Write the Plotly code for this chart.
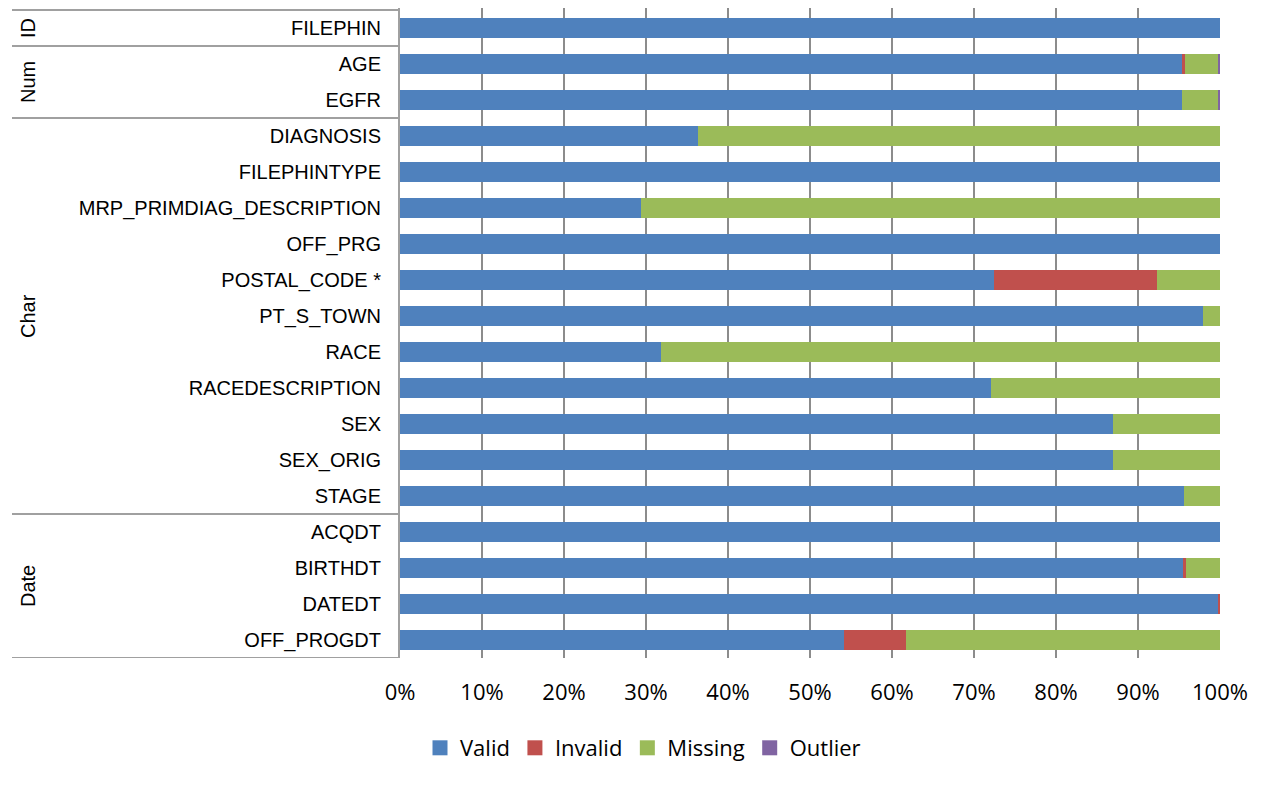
import plotly.graph_objects as go

categories = ["FILEPHIN", "AGE", "EGFR", "DIAGNOSIS", "FILEPHINTYPE",
              "MRP_PRIMDIAG_DESCRIPTION", "OFF_PRG", "POSTAL_CODE *", "PT_S_TOWN",
              "RACE", "RACEDESCRIPTION", "SEX", "SEX_ORIG", "STAGE",
              "ACQDT", "BIRTHDT", "DATEDT", "OFF_PROGDT"]
valid   = [100, 95.4, 95.4, 36.3, 100, 29.4, 100, 72.4, 97.9, 31.8, 72.1, 86.9, 86.9, 95.6, 100, 95.5, 99.8, 54.2]
invalid = [0, 0.3, 0, 0, 0, 0, 0, 19.9, 0, 0, 0, 0, 0, 0, 0, 0.3, 0.2, 7.5]
missing = [0, 4.1, 4.3, 63.7, 0, 70.6, 0, 7.7, 2.1, 68.2, 27.9, 13.1, 13.1, 4.4, 0, 4.2, 0, 38.3]
outlier = [0, 0.2, 0.3, 0, 0, 0, 0, 0, 0, 0, 0, 0, 0, 0, 0, 0, 0, 0]

groups = ["ID", "Num", "Char", "Date"]
group_sizes = [1, 2, 11, 4]

series = [("Valid", valid, "#4F81BD"), ("Invalid", invalid, "#C0504D"),
          ("Missing", missing, "#9BBB59"), ("Outlier", outlier, "#8064A2")]

fig = go.Figure()
for name, vals, col in series:
    fig.add_trace(go.Bar(y=categories, x=vals, name=name, orientation="h",
                         marker=dict(color=col, line=dict(width=0)), showlegend=False))
# legend entries with larger square keys
for name, vals, col in series:
    fig.add_trace(go.Scatter(x=[None], y=[None], mode="markers", name=name,
                             marker=dict(symbol="square", size=15, color=col)))

W, H = 1278, 785
OFF = 8  # page body margin
L, R, T, B = 400 - OFF, 1220 - OFF, 0, 658 - OFF
pw = R - L
ph = B - T

CAT_FONT = "Liberation Sans, Arial"
NUM_FONT = "Open Sans, Lato"

fig.update_layout(
    width=W, height=H, barmode="stack", bargap=0.44,
    margin=dict(l=L, r=W - R, t=T, b=H - B, pad=0),
    plot_bgcolor="white", paper_bgcolor="white",
    font=dict(family=CAT_FONT, size=18, color="#000000"),
    legend=dict(orientation="h", x=(643 - OFF - L) / pw, y=(B - (748 - OFF)) / ph,
                xanchor="center", yanchor="middle", itemwidth=30,
                font=dict(family=NUM_FONT, size=22),
                itemsizing="trace", traceorder="normal"),
    showlegend=True,
)
fig.update_xaxes(range=[0, 100], tickvals=[0, 10, 20, 30, 40, 50, 60, 70, 80, 90, 100],
                 ticktext=[f"{v}%" for v in range(0, 101, 10)],
                 showgrid=True, gridcolor="#8C8C8C", gridwidth=1.5, zeroline=False,
                 showline=False, ticks="", ticklabelstandoff=19,
                 tickfont=dict(family=NUM_FONT, size=22))
fig.update_yaxes(categoryorder="array", categoryarray=categories,
                 range=[17.5, -0.5 - 2 / 36], showgrid=False, zeroline=False,
                 showline=True, linecolor="#A0A0A0", linewidth=2, ticks="",
                 ticklabelstandoff=13, tickfont=dict(family=CAT_FONT, size=20))

# group separators and labels
bounds = [-0.5]
acc = -0.5
for s in group_sizes:
    acc += s
    bounds.append(acc)
for b in bounds:
    fig.add_shape(type="line", xref="paper", yref="y", x0=(12 - OFF - L) / pw, x1=0,
                  y0=b, y1=b, line=dict(color="#A0A0A0", width=2))
for g, a, b in zip(groups, bounds[:-1], bounds[1:]):
    fig.add_annotation(text=g, xref="paper", yref="y", x=(28 - OFF - L) / pw, y=(a + b) / 2,
                       textangle=-90, showarrow=False, font=dict(family=CAT_FONT, size=20),
                       xanchor="center", yanchor="middle")

fig.write_html("out.html")
